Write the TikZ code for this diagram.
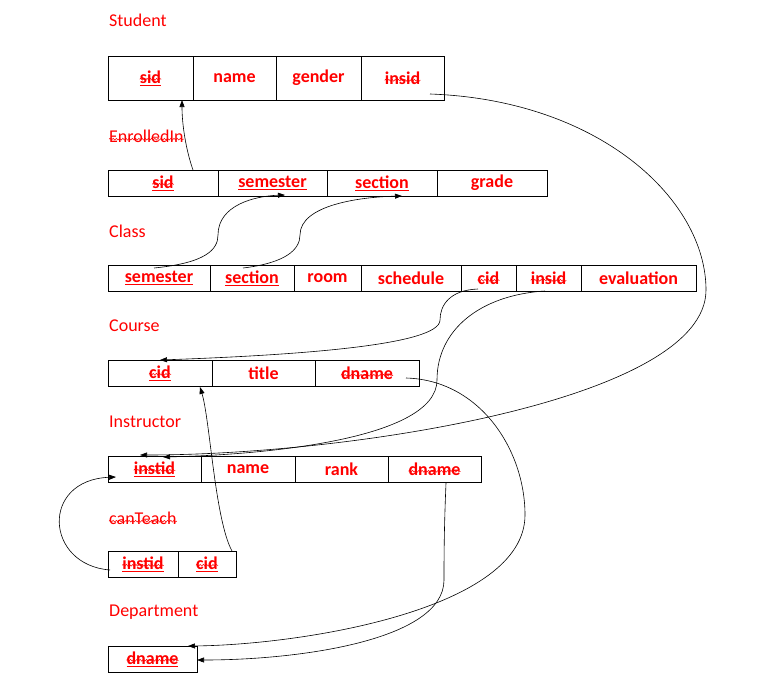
\documentclass[tikz,border=0pt]{standalone}
\usepackage{fontspec}
\setmainfont{Carlito}
\usetikzlibrary{decorations.pathmorphing,arrows.meta}
\definecolor{rd}{RGB}{255,0,0}
\newcommand{\ul}[1]{\underline{#1}}
\begin{document}
\begin{tikzpicture}[x=1pt,y=-1pt,
  ttl/.style={anchor=west,text=rd,font=\fontsize{18}{20}\selectfont,inner sep=0},
  fld/.style={text=rd,font=\fontsize{18}{20}\selectfont\bfseries,inner sep=0},
  cell/.style={draw,line width=0.8pt},
  squig/.style={draw=rd,line width=0.5pt,decorate,decoration={snake,amplitude=0.9pt,segment length=3.2pt}},
  con/.style={draw,line width=0.6pt,-{Triangle[length=7pt,width=5pt]}}]
\useasboundingbox (0,0) rectangle (762,693);
\fill[white] (0,0) rectangle (762,693);
% titles
\node[ttl] (tS) at (109,20) {Student};
\node[ttl] (tE) at (109,136) {EnrolledIn};
\node[ttl] (tC) at (109,231) {Class};
\node[ttl] (tCo) at (109,326) {Course};
\node[ttl] (tI) at (109,422) {Instructor};
\node[ttl] (tT) at (109,518) {canTeach};
\node[ttl] (tD) at (109,612) {Department};
\foreach \n/\d in {tE/0, tT/0}{\draw[squig] ([yshift=3pt]\n.base west) -- ([yshift=3pt]\n.base east);}
% table macro
\newcommand{\tbl}[4]{% prefix, y1, y2, list of x1/x2/text
  \foreach \a/\b/\t/\k in {#4}{
    \draw[cell] (\a,#2) rectangle (\b,#3);
    \node[fld] (#1\k) at ({(\a+\b)/2},{(#2+#3)/2}) {\t};
  }}
\tbl{S}{56}{100}{108/193/\ul{sid}/1,193/276/name/2,276/361/gender/3,361/444/insid/4}
\tbl{E}{170}{196}{108/218/\ul{sid}/1,218/327/\ul{semester}/2,327/437/\ul{section}/3,437/547/grade/4}
\tbl{C}{265}{291}{108/210/\ul{semester}/1,210/294/\ul{section}/2,294/361/room/3,361/461/schedule/4,461/516/cid/5,516/581/insid/6,581/696/evaluation/7}
\tbl{K}{360}{386}{108/212/\ul{cid}/1,212/315/title/2,315/419/dname/3}
\tbl{I}{456}{482}{108/201/\ul{instid}/1,201/295/name/2,295/388/rank/3,388/481/dname/4}
\tbl{T}{551}{577}{108/178/\ul{instid}/1,178/236/\ul{cid}/2}
\tbl{D}{646}{672}{108/197/\ul{dname}/1}
\foreach \n in {S1,S4,E1,C5,C6,K1,K3,I1,I4,T1,T2,D1}{\draw[squig] ([yshift=4pt]\n.base west) -- ([yshift=4pt]\n.base east);}
% connectors
\coordinate (e1) at (193,170); \coordinate (s1b) at (182,100);
\draw[con] (e1) .. controls (186,150) and (182,125) .. (s1b);
\coordinate (c1) at (154,268); \coordinate (e2b) at (285,195);
\draw[con] (c1) .. controls (205,263) and (218,250) .. (218,235) .. controls (218,205) and (255,196) .. (e2b);
\coordinate (c2) at (243,268); \coordinate (e3b) at (402,196);
\draw[con] (c2) .. controls (285,263) and (300,250) .. (300,235) .. controls (300,205) and (360,197) .. (e3b);
\coordinate (c5) at (478,289); \coordinate (k1t) at (160,360);
\draw[con] (c5) .. controls (450,290) and (440,305) .. (440,320) .. controls (440,345) and (300,355) .. (k1t);
\coordinate (c6) at (545,291); \coordinate (i1a) at (163,457);
\draw[con] (c6) .. controls (480,295) and (437,330) .. (437,380) .. controls (437,440) and (260,455) .. (i1a);
\coordinate (s4) at (430,94); \coordinate (i1b) at (140,455);
\draw[con] (s4) .. controls (600,100) and (706,200) .. (706,290) .. controls (706,400) and (350,455) .. (i1b);
\coordinate (k3) at (406,378); \coordinate (d1t) at (188,646);
\draw[con] (k3) .. controls (480,380) and (525,450) .. (525,515) .. controls (525,610) and (300,645) .. (d1t);
\coordinate (i4) at (446,483); \coordinate (d1r) at (197,660);
\draw[con] (i4) .. controls (444,530) and (444,560) .. (444,580) .. controls (444,640) and (300,660) .. (d1r);
\coordinate (t2) at (232,551); \coordinate (k1b) at (200,387);
\draw[con] (t2) .. controls (215,520) and (210,420) .. (k1b);
\coordinate (t1) at (110,570); \coordinate (i1l) at (116,477);
\draw[con] (t1) .. controls (45,565) and (40,480) .. (i1l);
\end{tikzpicture}
\end{document}
